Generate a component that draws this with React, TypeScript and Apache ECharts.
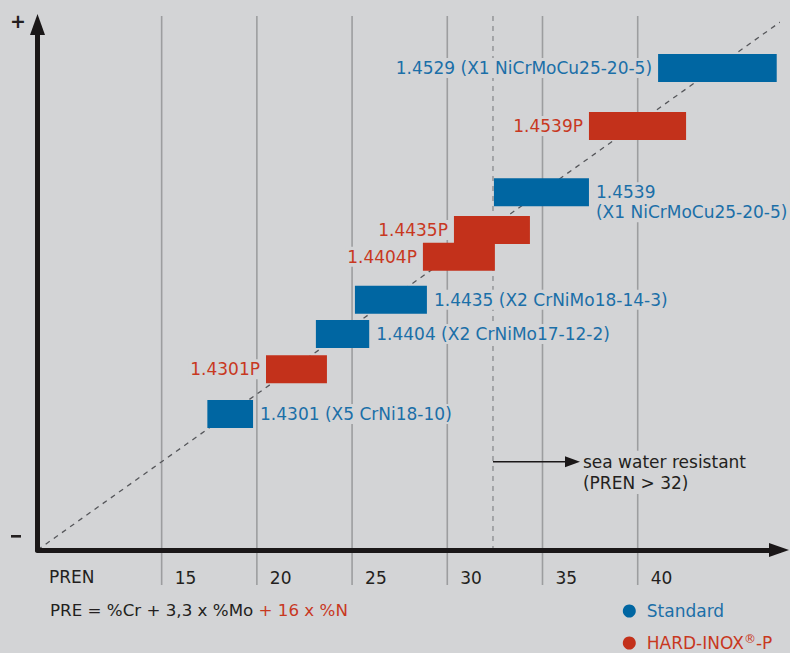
import React, { useEffect, useRef } from "react";
import * as echarts from "echarts";

// ---- data ----
const prenTicks = [15, 20, 25, 30, 35, 40];
const prenMin = 8.48;
const prenMax = 47.42;
const levelMin = 0;
const levelMax = 100;

const standardNames = [
  "1.4301 (X5 CrNi18-10)",
  "1.4404 (X2 CrNiMo17-12-2)",
  "1.4435 (X2 CrNiMo18-14-3)",
  "1.4539\n(X1 NiCrMoCu25-20-5)",
  "1.4529 (X1 NiCrMoCu25-20-5)",
];
const standardFrom = [17.4, 23.1, 25.15, 32.45, 41.07];
const standardTo = [19.8, 25.9, 28.93, 37.44, 47.3];
const standardLevel = [25.9, 41.1, 47.6, 68.1, 91.7];
const standardLabelSide = ["right", "right", "right", "right", "left"];

const hardNames = ["1.4301P", "1.4404P", "1.4435P", "1.4539P"];
const hardFrom = [20.48, 28.72, 30.35, 37.44];
const hardTo = [23.68, 32.5, 34.34, 42.54];
const hardLevel = [34.4, 55.8, 60.9, 80.7];
const hardLabelSide = ["left", "left", "left", "left"];

const seaWaterLimit = 32.4;
const seaWaterLevel = 16.8;
const seaWaterText = "sea water resistant\n(PREN > 32)";

const diagonal = [
  [8.48, 0],
  [48.0, 101.8],
];

const seriesNames = ["Standard", "HARD-INOX®-P"];

// ---- styles ----
const BG = "#d3d4d6";
const BLUE = "#0066a2";
const BLUE_TEXT = "#1b6fa8";
const RED = "#c3311b";
const RED_TEXT = "#c8381f";
const DARK = "#231f20";
const AXIS = "#1a1718";
const GRIDC = "#9c9d9f";
const FONT = '"DejaVu Sans", sans-serif';
const FS = 17;

function barSeries(
  name: string,
  from: number[],
  to: number[],
  level: number[],
  labels: string[],
  sides: string[],
  color: string,
  textColor: string
) {
  return {
    name,
    type: "custom",
    z: 3,
    data: from.map((f, i) => [f, to[i], level[i]]),
    renderItem: (params: any, api: any) => {
      const i = params.dataIndex;
      const s = api.coord([api.value(0), api.value(2)]);
      const e = api.coord([api.value(1), api.value(2)]);
      const h = 28;
      const label = labels[i];
      const multi = label.indexOf("\n") >= 0;
      const right = sides[i] === "right";
      const lh = 20;
      return {
        type: "group",
        children: [
          {
            type: "rect",
            shape: { x: s[0], y: s[1] - h / 2, width: e[0] - s[0], height: h },
            style: { fill: color },
          },
          {
            type: "text",
            x: right ? e[0] + 5 : s[0] - 4,
            y: multi ? s[1] - lh / 2 : s[1],
            style: {
              text: label,
              fill: textColor,
              font: `${FS}px ${FONT}`,
              align: right ? "left" : "right",
              verticalAlign: multi ? "top" : "middle",
              lineHeight: lh,
              backgroundColor: BG,
              padding: [0, 2],
            },
          },
        ],
      };
    },
  };
}

export default function App() {
  const ref = useRef<HTMLDivElement>(null);
  useEffect(() => {
    if (!ref.current) return;
    const chart = echarts.init(ref.current, undefined, { renderer: "svg" });
    const axisLineCommon = {
      show: true,
      onZero: false,
      lineStyle: { color: AXIS, width: 5 },
    };
    const option: any = {
      animation: false,
      backgroundColor: BG,
      grid: { left: 37.5, right: 11, top: 24.5, bottom: 103 },
      xAxis: {
        type: "value",
        min: prenMin,
        max: prenMax,
        z: 5,
        axisLine: { ...axisLineCommon, symbol: ["none", "triangle"], symbolSize: [14, 20] },
        axisTick: { show: false },
        axisLabel: { show: false },
        splitLine: { show: false },
      },
      yAxis: {
        type: "value",
        min: levelMin,
        max: levelMax,
        z: 5,
        axisLine: { ...axisLineCommon, symbol: ["none", "triangle"], symbolSize: [15, 21] },
        axisTick: { show: false },
        axisLabel: { show: false },
        splitLine: { show: false },
      },
      legend: {
        orient: "vertical",
        left: 622.8,
        top: 601,
        height: 80,
        padding: 0,
        itemWidth: 25,
        itemHeight: 13,
        itemGap: 12,
        icon: "circle",
        selectedMode: false,
        data: [
          { name: seriesNames[0], itemStyle: { color: BLUE } },
          { name: seriesNames[1], itemStyle: { color: RED } },
        ],
        formatter: (n: string) =>
          n === seriesNames[1] ? "{r|HARD-INOX}{rs|®}{r|-P}" : "{b|" + n + "}",
        textStyle: {
          fontFamily: FONT,
          fontSize: FS,
          lineHeight: 20,
          rich: {
            b: { color: BLUE_TEXT, fontFamily: FONT, fontSize: FS, lineHeight: 20 },
            r: { color: RED_TEXT, fontFamily: FONT, fontSize: FS, lineHeight: 20 },
            rs: {
              color: RED_TEXT,
              fontFamily: FONT,
              fontSize: 12,
              lineHeight: 12,
              verticalAlign: "top",
            },
          },
        },
      },
      graphic: [
        {
          type: "text",
          left: 10,
          top: 11,
          style: { text: "+", font: `bold 19px ${FONT}`, fill: DARK },
        },
        {
          type: "rect",
          left: 11,
          top: 535,
          shape: { width: 10, height: 2.6 },
          style: { fill: DARK },
        },
        {
          type: "text",
          left: 49,
          top: 568,
          style: { text: "PREN", font: `${FS}px ${FONT}`, fill: DARK },
        },
        {
          type: "text",
          left: 50,
          top: 601,
          style: {
            text: "{k|PRE = %Cr + 3,3 x %Mo }{r|+ 16 x %N}",
            rich: {
              k: { fill: DARK, font: `16.7px ${FONT}` },
              r: { fill: RED_TEXT, font: `16.7px ${FONT}` },
            },
          },
        },
      ],
      series: [
        {
          type: "custom",
          z: 1,
          silent: true,
          data: prenTicks.map((v) => [v]),
          renderItem: (params: any, api: any) => {
            const top = api.coord([api.value(0), levelMax]);
            const bot = api.coord([api.value(0), levelMin]);
            return {
              type: "group",
              children: [
                {
                  type: "line",
                  shape: { x1: top[0], y1: top[1] - 8.5, x2: bot[0], y2: bot[1] + 35 },
                  style: { stroke: GRIDC, lineWidth: 1.6 },
                },
                {
                  type: "text",
                  x: bot[0] + 13,
                  y: bot[1] + 28,
                  style: {
                    text: String(api.value(0)),
                    font: `${FS}px ${FONT}`,
                    fill: DARK,
                    align: "left",
                    verticalAlign: "middle",
                  },
                },
              ],
            };
          },
        },
        {
          type: "line",
          z: 2,
          silent: true,
          clip: false,
          symbol: "none",
          data: diagonal,
          lineStyle: { color: "#55565a", width: 1.3, type: [5, 5] },
        },
        {
          type: "custom",
          z: 2,
          silent: true,
          clip: false,
          data: [[seaWaterLimit, seaWaterLevel]],
          renderItem: (params: any, api: any) => {
            const top = api.coord([api.value(0), levelMax]);
            const bot = api.coord([api.value(0), levelMin]);
            const p = api.coord([api.value(0), api.value(1)]);
            const tip = p[0] + 87;
            return {
              type: "group",
              children: [
                {
                  type: "line",
                  shape: { x1: top[0], y1: top[1] - 8.5, x2: bot[0], y2: bot[1] },
                  style: { stroke: "#8f9093", lineWidth: 1.4, lineDash: [5, 5] },
                },
                {
                  type: "line",
                  shape: { x1: p[0], y1: p[1], x2: tip - 12, y2: p[1] },
                  style: { stroke: AXIS, lineWidth: 1.4 },
                },
                {
                  type: "polygon",
                  shape: {
                    points: [
                      [tip - 15, p[1] - 5.5],
                      [tip, p[1]],
                      [tip - 15, p[1] + 5.5],
                    ],
                  },
                  style: { fill: AXIS },
                },
                {
                  type: "text",
                  x: tip + 1,
                  y: p[1] - 11,
                  style: {
                    text: seaWaterText,
                    font: `${FS}px ${FONT}`,
                    fill: DARK,
                    align: "left",
                    verticalAlign: "top",
                    lineHeight: 21.6,
                    backgroundColor: BG,
                    padding: [0, 2],
                  },
                },
              ],
            };
          },
        },
        barSeries(
          seriesNames[0],
          standardFrom,
          standardTo,
          standardLevel,
          standardNames,
          standardLabelSide,
          BLUE,
          BLUE_TEXT
        ),
        barSeries(
          seriesNames[1],
          hardFrom,
          hardTo,
          hardLevel,
          hardNames,
          hardLabelSide,
          RED,
          RED_TEXT
        ),
      ],
    };
    chart.setOption(option);
    return () => chart.dispose();
  }, []);
  return (
    <div
      ref={ref}
      style={{ position: "absolute", left: 0, top: 0, width: 790, height: 653 }}
    />
  );
}
